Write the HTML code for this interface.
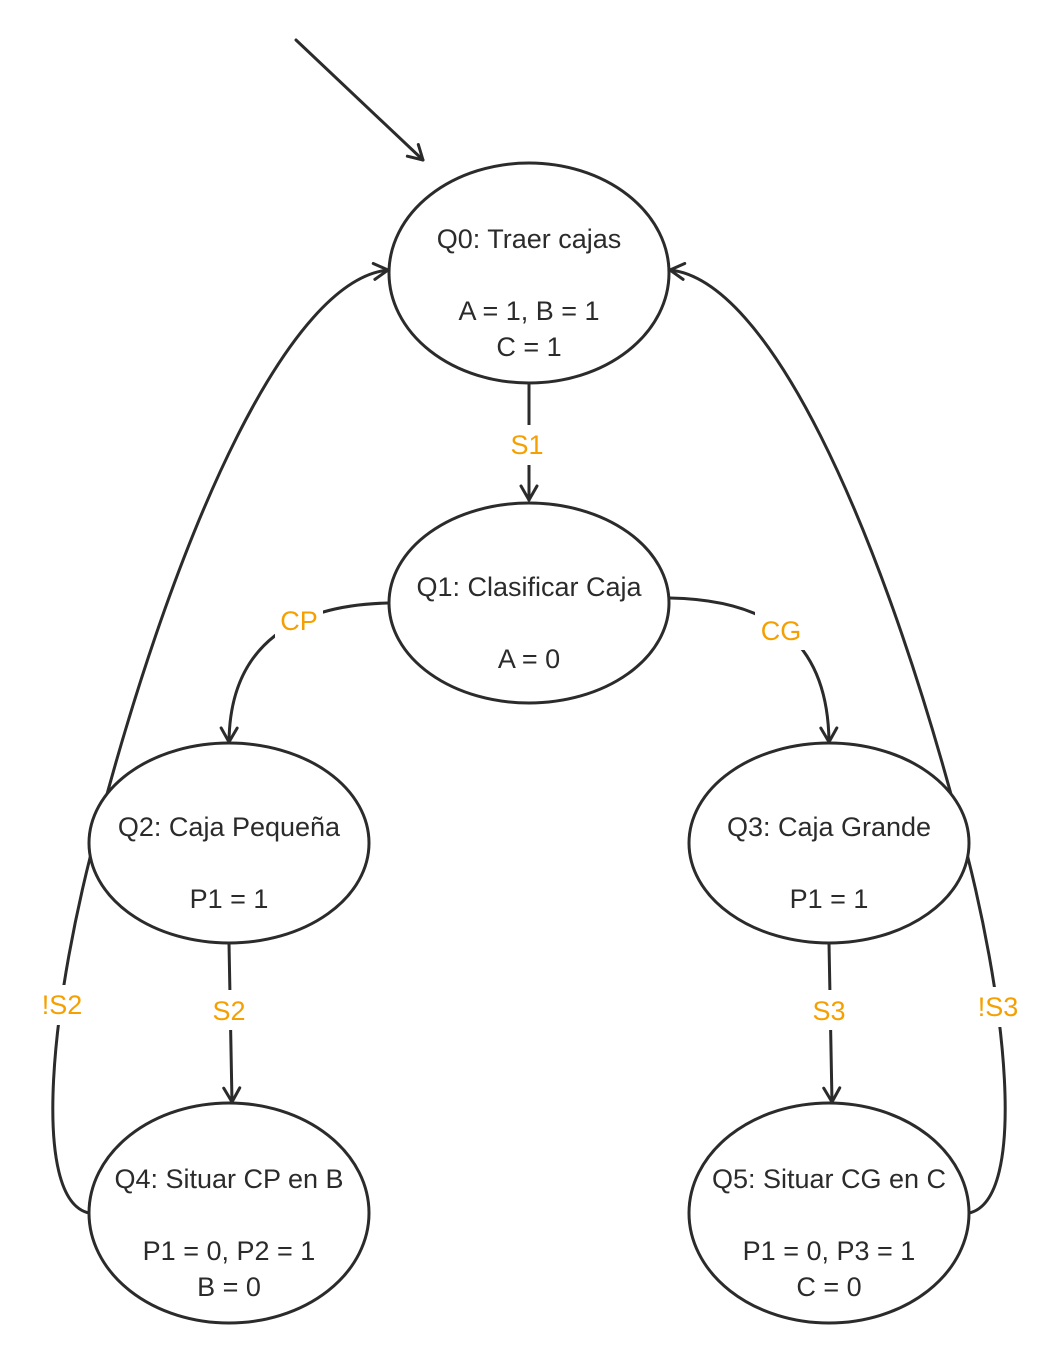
<!DOCTYPE html>
<html><head><meta charset="utf-8"><style>
html,body{margin:0;padding:0;background:#fff;}
svg{display:block;}
text{font-family:"Liberation Sans","DejaVu Sans",sans-serif;}
</style></head><body>
<svg width="1057" height="1364" viewBox="0 0 1057 1364" xmlns="http://www.w3.org/2000/svg">
<defs>
<marker id="a" viewBox="0 0 20 20" refX="17" refY="10" markerWidth="20" markerHeight="20" markerUnits="userSpaceOnUse" orient="auto">
<polyline points="3,2 17,10 3,18" fill="none" stroke="#2b2b2b" stroke-width="3" stroke-linecap="round" stroke-linejoin="round"/>
</marker>
</defs>
<g fill="none" stroke="#2b2b2b" stroke-width="3" stroke-linecap="round">
<path d="M296,40 L423,160" marker-end="url(#a)"/>
<path d="M529,385 L529,500" marker-end="url(#a)"/>
<path d="M388,603 C300,605 230,640 229,742" marker-end="url(#a)"/>
<path d="M670,598 C780,600 828,650 829,742" marker-end="url(#a)"/>
<path d="M229,943 L232,1102" marker-end="url(#a)"/>
<path d="M829,943 L832,1102" marker-end="url(#a)"/>
<path d="M89,1213 C30,1200 50,1000 100,820 C180,520 290,280 388,270" marker-end="url(#a)"/>
<path d="M969,1213 C1028,1200 1008,1000 958,820 C878,520 768,280 670,270" marker-end="url(#a)"/>
</g>
<g fill="#fff" stroke="#2b2b2b" stroke-width="3">
<ellipse cx="529" cy="273" rx="140" ry="110"/>
<ellipse cx="529" cy="603" rx="140" ry="100"/>
<ellipse cx="229" cy="843" rx="140" ry="100"/>
<ellipse cx="829" cy="843" rx="140" ry="100"/>
<ellipse cx="229" cy="1213" rx="140" ry="110"/>
<ellipse cx="829" cy="1213" rx="140" ry="110"/>
</g>
<g fill="#fff">
<rect x="508" y="425" width="42" height="40"/>
<rect x="275" y="600" width="48" height="40"/>
<rect x="755" y="610" width="50" height="40"/>
<rect x="208" y="990" width="44" height="40"/>
<rect x="808" y="990" width="44" height="40"/>
<rect x="38" y="985" width="48" height="40"/>
<rect x="975" y="987" width="48" height="40"/>
</g>
<g fill="#f5a000" font-size="27" text-anchor="middle">
<text x="527" y="454">S1</text>
<text x="299" y="630">CP</text>
<text x="781" y="640">CG</text>
<text x="229" y="1020">S2</text>
<text x="829" y="1020">S3</text>
<text x="62" y="1014">!S2</text>
<text x="998" y="1016">!S3</text>
</g>
<g fill="#2b2b2b" font-size="27" text-anchor="middle">
<text x="529" y="248">Q0: Traer cajas</text>
<text x="529" y="320">A = 1, B = 1</text>
<text x="529" y="356">C = 1</text>
<text x="529" y="596">Q1: Clasificar Caja</text>
<text x="529" y="668">A = 0</text>
<text x="229" y="836">Q2: Caja Pequeña</text>
<text x="229" y="908">P1 = 1</text>
<text x="829" y="836">Q3: Caja Grande</text>
<text x="829" y="908">P1 = 1</text>
<text x="229" y="1188">Q4: Situar CP en B</text>
<text x="229" y="1260">P1 = 0, P2 = 1</text>
<text x="229" y="1296">B = 0</text>
<text x="829" y="1188">Q5: Situar CG en C</text>
<text x="829" y="1260">P1 = 0, P3 = 1</text>
<text x="829" y="1296">C = 0</text>
</g>
</svg>
</body></html>
